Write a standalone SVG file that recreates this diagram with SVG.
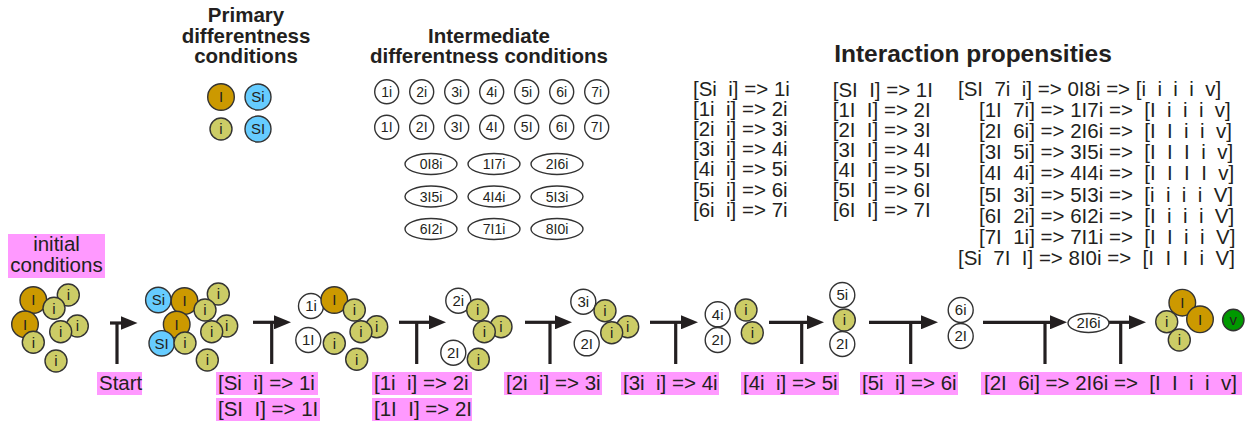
<svg xmlns="http://www.w3.org/2000/svg" width="1247" height="424" viewBox="0 0 1247 424">
<style>
text{font-family:"Liberation Sans",Arial,sans-serif;fill:#231f20}
.h{font-weight:bold;font-size:20.5px;text-anchor:middle}
.hb{font-weight:bold;font-size:24.5px;text-anchor:middle}
.t{font-size:20.5px;white-space:pre}
.c{font-size:15px;text-anchor:middle}
.g{font-size:14px;text-anchor:middle}
.L{fill:#cc9900;stroke:#333;stroke-width:1.4}
.i{fill:#cccc66;stroke:#333;stroke-width:1.4}
.S{fill:#66ccff;stroke:#333;stroke-width:1.4}
.w{fill:#fff;stroke:#333;stroke-width:1.4}
.v{fill:#009900;stroke:#333;stroke-width:1.4}
.pk{fill:#ff99ff}
.ln{stroke:#231f20;stroke-width:3.2;fill:none}
</style>
<defs>
<marker id="ah" markerUnits="userSpaceOnUse" viewBox="0 0 17 14" markerWidth="17" markerHeight="14" refX="1" refY="7" orient="auto">
<path d="M0,0 L17,7 L0,14 z" fill="#231f20"/>
</marker>
</defs>
<rect width="1247" height="424" fill="#fff"/>

<g id="headings">
<text class="h" x="246" y="22">Primary</text>
<text class="h" x="246" y="43">differentness</text>
<text class="h" x="246" y="63">conditions</text>
<text class="h" x="489" y="43">Intermediate</text>
<text class="h" x="489" y="63">differentness conditions</text>
<text class="hb" x="973" y="62">Interaction propensities</text>
</g>

<g id="primary">
<circle class="L" cx="221" cy="97" r="13.3"/><text class="c" x="221" y="102.3">I</text>
<circle class="S" cx="258" cy="97" r="13"/><text class="c" x="258" y="102.3">Si</text>
<circle class="i" cx="221" cy="129" r="11"/><text class="c" x="221" y="134.3">i</text>
<circle class="S" cx="258" cy="129" r="13"/><text class="c" x="258" y="134.3">SI</text>
</g>

<g id="intermediate">
<g class="w">
<circle cx="386.7" cy="91.7" r="12"/><circle cx="421.7" cy="91.7" r="12"/><circle cx="456.7" cy="91.7" r="12"/><circle cx="491.7" cy="91.7" r="12"/><circle cx="526.7" cy="91.7" r="12"/><circle cx="561.7" cy="91.7" r="12"/><circle cx="596.7" cy="91.7" r="12"/>
<circle cx="386.7" cy="127.3" r="12"/><circle cx="421.7" cy="127.3" r="12"/><circle cx="456.7" cy="127.3" r="12"/><circle cx="491.7" cy="127.3" r="12"/><circle cx="526.7" cy="127.3" r="12"/><circle cx="561.7" cy="127.3" r="12"/><circle cx="596.7" cy="127.3" r="12"/>
<ellipse cx="431" cy="164" rx="26" ry="10.5"/><ellipse cx="494" cy="164" rx="26" ry="10.5"/><ellipse cx="557" cy="164" rx="26" ry="10.5"/>
<ellipse cx="431" cy="196.5" rx="26" ry="10.5"/><ellipse cx="494" cy="196.5" rx="26" ry="10.5"/><ellipse cx="557" cy="196.5" rx="26" ry="10.5"/>
<ellipse cx="431" cy="229" rx="26" ry="10.5"/><ellipse cx="494" cy="229" rx="26" ry="10.5"/><ellipse cx="557" cy="229" rx="26" ry="10.5"/>
</g>
<text class="g" x="386.7" y="96.7">1i</text><text class="g" x="421.7" y="96.7">2i</text><text class="g" x="456.7" y="96.7">3i</text><text class="g" x="491.7" y="96.7">4i</text><text class="g" x="526.7" y="96.7">5i</text><text class="g" x="561.7" y="96.7">6i</text><text class="g" x="596.7" y="96.7">7i</text>
<text class="g" x="386.7" y="132.3">1I</text><text class="g" x="421.7" y="132.3">2I</text><text class="g" x="456.7" y="132.3">3I</text><text class="g" x="491.7" y="132.3">4I</text><text class="g" x="526.7" y="132.3">5I</text><text class="g" x="561.7" y="132.3">6I</text><text class="g" x="596.7" y="132.3">7I</text>
<text class="g" x="431" y="169">0I8i</text><text class="g" x="494" y="169">1I7i</text><text class="g" x="557" y="169">2I6i</text>
<text class="g" x="431" y="201.5">3I5i</text><text class="g" x="494" y="201.5">4I4i</text><text class="g" x="557" y="201.5">5I3i</text>
<text class="g" x="431" y="234">6I2i</text><text class="g" x="494" y="234">7I1i</text><text class="g" x="557" y="234">8I0i</text>
</g>

<g id="propensities">
<text class="t" x="693" y="95.5">[Si  i] =&gt; 1i</text>
<text class="t" x="693" y="115.7">[1i  i] =&gt; 2i</text>
<text class="t" x="693" y="135.9">[2i  i] =&gt; 3i</text>
<text class="t" x="693" y="156.1">[3i  i] =&gt; 4i</text>
<text class="t" x="693" y="176.3">[4i  i] =&gt; 5i</text>
<text class="t" x="693" y="196.5">[5i  i] =&gt; 6i</text>
<text class="t" x="693" y="216.7">[6i  i] =&gt; 7i</text>

<text class="t" x="832.7" y="97">[SI  I] =&gt; 1I</text>
<text class="t" x="832.7" y="117">[1I  I] =&gt; 2I</text>
<text class="t" x="832.7" y="137">[2I  I] =&gt; 3I</text>
<text class="t" x="832.7" y="157">[3I  I] =&gt; 4I</text>
<text class="t" x="832.7" y="177">[4I  I] =&gt; 5I</text>
<text class="t" x="832.7" y="197">[5I  I] =&gt; 6I</text>
<text class="t" x="832.7" y="217">[6I  I] =&gt; 7I</text>

<text class="t" x="958" y="96">[SI  7i  i] =&gt; 0I8i =&gt; [i  i  i  i  v]</text>
<text class="t" x="979" y="117.1">[1I  7i] =&gt; 1I7i =&gt;  [I  i  i  i  v]</text>
<text class="t" x="979" y="138.2">[2I  6i] =&gt; 2I6i =&gt;  [I  I  i  i  v]</text>
<text class="t" x="979" y="159.3">[3I  5i] =&gt; 3I5i =&gt;  [I  I  I  i  v]</text>
<text class="t" x="979" y="180.4">[4I  4i] =&gt; 4I4i =&gt;  [I  I  I  I  v]</text>
<text class="t" x="979" y="201.5">[5I  3i] =&gt; 5I3i =&gt;  [i  i  i  i  V]</text>
<text class="t" x="979" y="222.6">[6I  2i] =&gt; 6I2i =&gt;  [I  i  i  i  V]</text>
<text class="t" x="979" y="243.7">[7I  1i] =&gt; 7I1i =&gt;  [I  I  i  i  V]</text>
<text class="t" x="958" y="264.8">[Si  7I  I] =&gt; 8I0i =&gt;  [I  I  I  i  V]</text>
</g>

<g id="labels">
<rect class="pk" x="8" y="234" width="97" height="44"/>
<text class="t" x="56.5" y="251" text-anchor="middle">initial</text>
<text class="t" x="56.5" y="272" text-anchor="middle">conditions</text>
<rect class="pk" x="97" y="372" width="45" height="23"/><text class="t" x="99" y="390">Start</text>
<rect class="pk" x="216" y="372" width="102" height="23"/><text class="t" x="218" y="390">[Si  i] =&gt; 1i</text>
<rect class="pk" x="216" y="398" width="104" height="23"/><text class="t" x="218" y="416">[SI  I] =&gt; 1I</text>
<rect class="pk" x="372" y="372" width="100" height="23"/><text class="t" x="374" y="390">[1i  i] =&gt; 2i</text>
<rect class="pk" x="372" y="398" width="100" height="23"/><text class="t" x="374" y="416">[1I  I] =&gt; 2I</text>
<rect class="pk" x="504" y="372" width="98" height="23"/><text class="t" x="506" y="390">[2i  i] =&gt; 3i</text>
<rect class="pk" x="621" y="372" width="98" height="23"/><text class="t" x="623" y="390">[3i  i] =&gt; 4i</text>
<rect class="pk" x="741" y="372" width="98" height="23"/><text class="t" x="743" y="390">[4i  i] =&gt; 5i</text>
<rect class="pk" x="860" y="372" width="98" height="23"/><text class="t" x="862" y="390">[5i  i] =&gt; 6i</text>
<rect class="pk" x="981" y="372" width="261" height="23"/><text class="t" x="984" y="390">[2I  6i] =&gt; 2I6i =&gt;  [I  I  i  i  v]</text>
</g>

<g id="connectors">
<path class="ln" d="M110,323 H121.5" marker-end="url(#ah)"/><path class="ln" d="M117,323 V364"/>
<path class="ln" d="M253,322.3 H275" marker-end="url(#ah)"/><path class="ln" d="M271.7,322.3 V364"/>
<path class="ln" d="M399,322.3 H430" marker-end="url(#ah)"/><path class="ln" d="M416.7,322.3 V364"/>
<path class="ln" d="M525,322.3 H556" marker-end="url(#ah)"/><path class="ln" d="M550,322.3 V364"/>
<path class="ln" d="M650,322.3 H682" marker-end="url(#ah)"/><path class="ln" d="M675.7,322.3 V364"/>
<path class="ln" d="M769,322.3 H808" marker-end="url(#ah)"/><path class="ln" d="M801.7,322.3 V364"/>
<path class="ln" d="M869,322.3 H922" marker-end="url(#ah)"/><path class="ln" d="M910.7,322.3 V364"/>
<path class="ln" d="M983,322.3 H1051" marker-end="url(#ah)"/><path class="ln" d="M1045,322.3 V364"/>
<path class="ln" d="M1109,322.3 H1130" marker-end="url(#ah)"/><path class="ln" d="M1120.7,322.3 V364"/>
</g>

<g id="state0">
<circle class="L" cx="33.3" cy="300" r="13.3"/><text class="c" x="33.3" y="305.3">I</text>
<circle class="L" cx="25" cy="324.3" r="13.3"/><text class="c" x="25" y="329.6">I</text>
<circle class="i" cx="68.3" cy="295" r="11"/><text class="c" x="68.3" y="300.3">i</text>
<circle class="i" cx="54" cy="308.3" r="11"/><text class="c" x="54" y="313.6">i</text>
<circle class="i" cx="77.3" cy="326" r="11"/><text class="c" x="77.3" y="331.3">i</text>
<circle class="i" cx="60.7" cy="331.7" r="11"/><text class="c" x="60.7" y="337">i</text>
<circle class="i" cx="33.3" cy="342.3" r="11"/><text class="c" x="33.3" y="347.6">i</text>
<circle class="i" cx="56" cy="361" r="11"/><text class="c" x="56" y="366.3">i</text>
</g>

<g id="state1">
<circle class="S" cx="158.3" cy="300" r="12.7"/><text class="c" x="158.3" y="305.3">Si</text>
<circle class="L" cx="184.5" cy="301" r="13.3"/><text class="c" x="184.5" y="306.3">I</text>
<circle class="L" cx="176.7" cy="324.5" r="13.3"/><text class="c" x="176.7" y="329.8">I</text>
<circle class="S" cx="161.7" cy="343.3" r="12.7"/><text class="c" x="161.7" y="348.6">SI</text>
<circle class="i" cx="185" cy="343" r="11"/><text class="c" x="185" y="348.3">i</text>
<circle class="i" cx="218.3" cy="294" r="11"/><text class="c" x="218.3" y="299.3">i</text>
<circle class="i" cx="205" cy="310" r="11"/><text class="c" x="205" y="315.3">i</text>
<circle class="i" cx="226.7" cy="326" r="11"/><text class="c" x="226.7" y="331.3">i</text>
<circle class="i" cx="211.7" cy="331.7" r="11"/><text class="c" x="211.7" y="337">i</text>
<circle class="i" cx="207.3" cy="360" r="11"/><text class="c" x="207.3" y="365.3">i</text>
</g>

<g id="state2">
<circle class="w" cx="311" cy="306" r="12.5"/><text class="c" x="311" y="311.3">1i</text>
<circle class="L" cx="334.3" cy="300" r="13.3"/><text class="c" x="334.3" y="305.3">I</text>
<circle class="i" cx="354.3" cy="310" r="11"/><text class="c" x="354.3" y="315.3">i</text>
<circle class="i" cx="376.7" cy="326.7" r="11"/><text class="c" x="376.7" y="332">i</text>
<circle class="i" cx="361" cy="331.7" r="11"/><text class="c" x="361" y="337">i</text>
<circle class="w" cx="308.3" cy="340" r="12.5"/><text class="c" x="308.3" y="345.3">1I</text>
<circle class="i" cx="334.3" cy="343.3" r="11"/><text class="c" x="334.3" y="348.6">i</text>
<circle class="i" cx="356.7" cy="359.3" r="11"/><text class="c" x="356.7" y="364.6">i</text>
</g>

<g id="state3">
<circle class="w" cx="458.3" cy="300.7" r="12.5"/><text class="c" x="458.3" y="306">2i</text>
<circle class="i" cx="477.7" cy="310" r="11"/><text class="c" x="477.7" y="315.3">i</text>
<circle class="i" cx="501" cy="326.7" r="11"/><text class="c" x="501" y="332">i</text>
<circle class="i" cx="484.3" cy="331.7" r="11"/><text class="c" x="484.3" y="337">i</text>
<circle class="w" cx="453.3" cy="352.7" r="12.5"/><text class="c" x="453.3" y="358">2I</text>
<circle class="i" cx="478.3" cy="359.3" r="11"/><text class="c" x="478.3" y="364.6">i</text>
</g>

<g id="state4">
<circle class="w" cx="583.3" cy="301.7" r="12.5"/><text class="c" x="583.3" y="307">3i</text>
<circle class="i" cx="605" cy="310.7" r="11"/><text class="c" x="605" y="316">i</text>
<circle class="i" cx="627.7" cy="326.7" r="11"/><text class="c" x="627.7" y="332">i</text>
<circle class="i" cx="611.7" cy="332.7" r="11"/><text class="c" x="611.7" y="338">i</text>
<circle class="w" cx="586.7" cy="343.3" r="12.5"/><text class="c" x="586.7" y="348.6">2I</text>
</g>

<g id="state5">
<circle class="w" cx="717.7" cy="314.3" r="12.5"/><text class="c" x="717.7" y="319.6">4i</text>
<circle class="w" cx="717.7" cy="340" r="12.5"/><text class="c" x="717.7" y="345.3">2I</text>
<circle class="i" cx="746" cy="310" r="11"/><text class="c" x="746" y="315.3">i</text>
<circle class="i" cx="752.3" cy="332.7" r="11"/><text class="c" x="752.3" y="338">i</text>
</g>

<g id="state6">
<circle class="w" cx="842.3" cy="295" r="12.5"/><text class="c" x="842.3" y="300.3">5i</text>
<circle class="w" cx="842.3" cy="344" r="12.5"/><text class="c" x="842.3" y="349.3">2I</text>
<circle class="i" cx="844.3" cy="320" r="11"/><text class="c" x="844.3" y="325.3">i</text>
</g>

<g id="state7">
<circle class="w" cx="960.7" cy="310" r="12.5"/><text class="c" x="960.7" y="315.3">6i</text>
<circle class="w" cx="960.7" cy="336" r="12.5"/><text class="c" x="960.7" y="341.3">2I</text>
</g>

<g id="state8">
<ellipse class="w" cx="1088.5" cy="323" rx="20.5" ry="9.5"/><text class="c" x="1088.5" y="328.3">2I6i</text>
</g>

<g id="state9">
<circle class="L" cx="1182.3" cy="302.7" r="13.3"/><text class="c" x="1182.3" y="308">I</text>
<circle class="L" cx="1200" cy="319.3" r="13.3"/><text class="c" x="1200" y="324.6">I</text>
<circle class="i" cx="1166.7" cy="321.7" r="11"/><text class="c" x="1166.7" y="327">i</text>
<circle class="i" cx="1179.3" cy="340" r="11"/><text class="c" x="1179.3" y="345.3">i</text>
<circle class="v" cx="1233.3" cy="320" r="10.7"/><text class="c" x="1233.3" y="325.3">v</text>
</g>
</svg>
